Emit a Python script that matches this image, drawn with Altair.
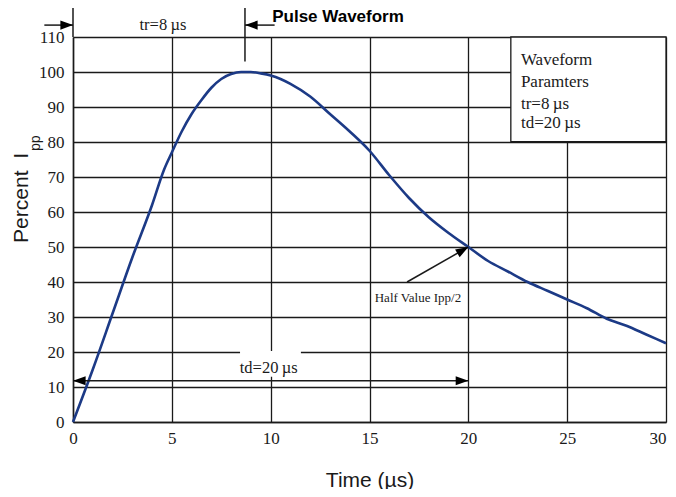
import altair as alt
import pandas as pd

# ---- curve data ----
time_us = [0, 1, 2, 3, 4, 4.6, 5, 5.5, 6, 6.5, 7, 7.5, 8, 8.5, 9, 9.5, 10, 10.5, 11,
           12, 13, 14, 15, 16, 17, 18, 19, 20, 21, 22, 23, 24, 25, 26, 27, 28, 29, 30]
percent = [0, 15, 31, 47, 62, 72, 77, 83, 88, 92, 95.5, 98, 99.4, 100, 100, 99.6, 99, 98, 96.6,
           93, 88, 83, 77.5, 70.5, 64, 58.5, 54, 50, 46, 43, 40, 37.5, 35, 32.5, 29.5, 27.5, 25, 22.5]

x_ticks = [0, 5, 10, 15, 20, 25, 30]
y_ticks = [0, 10, 20, 30, 40, 50, 60, 70, 80, 90, 100, 110]

# ---- annotation geometry (data units) ----
seg_x = [0, 8.7, -1.45, 10.2, 0, 16.9]
seg_y = [110, 103, 113.4, 113.4, 11.8, 40]
seg_x2 = [0, 8.7, 0, 8.7, 20, 20]
seg_y2 = [118.5, 118.5, 113.4, 113.4, 11.8, 50]

head_x = [0, 8.7, 0, 20, 20]
head_y = [113.4, 113.4, 11.8, 11.8, 50]
head_angle = [0, 180, 180, 0, 330]

box_lines = ["Waveform", "Paramters", "tr=8\u2009µs", "td=20\u2009µs"]
box_line_y = [103.4, 97.1, 90.9, 85.4]

INK = "#1a1a1a"
SERIF = "Liberation Serif"
SANS = "Liberation Sans"

xs = alt.Scale(domain=[0, 30], nice=False)
ys = alt.Scale(domain=[0, 110], nice=False)
x_axis = alt.Axis(values=x_ticks, grid=True, gridColor=INK, gridWidth=1.3, gridOpacity=1,
                  domainColor=INK, domainWidth=1.5, ticks=False,
                  labelFont=SERIF, labelFontSize=17, labelColor=INK, labelPadding=8,
                  labelAlign=alt.expr("datum.value == 30 ? 'right' : 'center'"),
                  title="Time (µs)", titleFont=SANS, titleFontSize=21,
                  titleFontWeight="normal", titleColor=INK, titlePadding=23)
y_axis = alt.Axis(values=y_ticks, grid=True, gridColor=INK, gridWidth=1.3, gridOpacity=1,
                  domainColor=INK, domainWidth=1.5, ticks=False,
                  labelFont=SERIF, labelFontSize=17, labelColor=INK, labelPadding=9,
                  title=None)


def X(f):
    return alt.X(f, type="quantitative", scale=xs, axis=x_axis)


def Y(f):
    return alt.Y(f, type="quantitative", scale=ys, axis=y_axis)


curve_df = pd.DataFrame({"x": time_us, "y": percent})
seg_df = pd.DataFrame({"x": seg_x, "y": seg_y, "x2": seg_x2, "y2": seg_y2})
head_df = pd.DataFrame({"x": head_x, "y": head_y, "a": head_angle})
box_df = pd.DataFrame({"x": [22.15], "y": [80.1], "x2": [30], "y2": [110]})
box_txt_df = pd.DataFrame({"x": [22.66] * 4, "y": box_line_y, "t": box_lines})
mask_df = pd.DataFrame({"x": [8.45], "y": [12.9], "x2": [11.53], "y2": [20.3]})
lbl_df = pd.DataFrame({"x": [9.9, 4.55], "y": [15.4, 113.4], "t": ["td=20\u2009µs", "tr=8\u2009µs"]})
half_df = pd.DataFrame({"x": [17.45], "y": [35.4], "t": ["Half Value Ipp/2"]})
one = pd.DataFrame({"k": [0]})

ARROW = "M0,0L-1,-0.36L-1,0.36Z"

grid_layer = alt.Chart(curve_df).mark_line(opacity=0).encode(x=X("x"), y=Y("y"))

box = alt.Chart(box_df).mark_rect(fill="white", stroke=INK, strokeWidth=1.3).encode(
    x=X("x"), x2="x2", y=Y("y"), y2="y2")
box_txt = alt.Chart(box_txt_df).mark_text(align="left", baseline="middle", font=SERIF,
                                          fontSize=17, color=INK).encode(
    x=X("x"), y=Y("y"), text="t:N")
mask = alt.Chart(mask_df).mark_rect(fill="white", strokeWidth=0).encode(
    x=X("x"), x2="x2", y=Y("y"), y2="y2")

curve = alt.Chart(curve_df).mark_line(color="#1c3a86", strokeWidth=2.6,
                                      interpolate="monotone").encode(x=X("x"), y=Y("y"))

segs = alt.Chart(seg_df).mark_rule(color=INK, strokeWidth=1.5).encode(
    x=X("x"), y=Y("y"), x2="x2", y2="y2")
heads = alt.Chart(head_df).mark_point(shape=ARROW, size=640, filled=True, color="black",
                                      opacity=1, strokeWidth=0).encode(
    x=X("x"), y=Y("y"), angle=alt.Angle("a:Q", scale=None))

lbls = alt.Chart(lbl_df).mark_text(align="center", baseline="middle", font=SERIF,
                                   fontSize=16.5, color=INK).encode(
    x=X("x"), y=Y("y"), text="t:N")
half = alt.Chart(half_df).mark_text(align="center", baseline="middle", font=SERIF,
                                    fontSize=13, color=INK).encode(
    x=X("x"), y=Y("y"), text="t:N")

title = alt.Chart(one).mark_text(align="center", baseline="alphabetic", font=SANS,
                                 fontSize=17, fontWeight="bold", color="black").encode(
    x=alt.value(265), y=alt.value(-15), text=alt.value("Pulse Waveform"))
ytitle = alt.Chart(one).mark_text(angle=270, align="right", baseline="alphabetic", font=SANS,
                                  fontSize=21, color=INK).encode(
    x=alt.value(-45), y=alt.value(116), text=alt.value("Percent\u00a0\u00a0I"))
ysub = alt.Chart(one).mark_text(angle=270, align="left", baseline="alphabetic", font=SANS,
                                fontSize=14, color=INK).encode(
    x=alt.value(-33), y=alt.value(114), text=alt.value("pp"))

chart = alt.layer(grid_layer, box, box_txt, mask, curve, segs, heads, lbls, half,
                  title, ytitle, ysub).properties(
    width=593, height=385,
    autosize=alt.AutoSizeParams(type="none"),
    padding={"left": 65, "top": 29, "right": 2, "bottom": 67},
    background="white",
).configure_view(stroke=None)

chart.save("out.html", embed_options={"renderer": "svg", "actions": False})
